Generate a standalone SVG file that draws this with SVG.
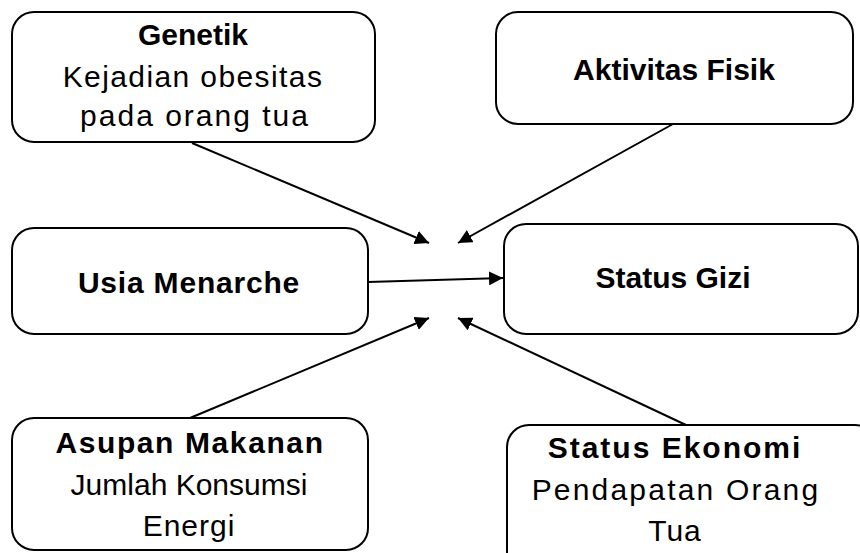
<svg xmlns="http://www.w3.org/2000/svg" width="860" height="553" viewBox="0 0 860 553">
<style>
.box{fill:#fff;stroke:#000;stroke-width:2}
text{font-family:"Liberation Sans",Arial,sans-serif;font-size:30px;fill:#000;text-anchor:middle;letter-spacing:1px}
.b{font-weight:bold;letter-spacing:0}
.c{stroke:#000;stroke-width:2;fill:none;marker-end:url(#ah)}
</style>
<defs>
<marker id="ah" viewBox="0 0 10 10" refX="10" refY="5" markerWidth="7" markerHeight="7" orient="auto" markerUnits="strokeWidth">
<path d="M0,0 L10,5 L0,10 z" fill="#000"/>
</marker>
</defs>
<g id="genetik">
<rect class="box" x="12" y="12" width="363" height="130" rx="22"/>
<text class="b" x="193" y="45">Genetik</text>
<text x="193" y="87" style="letter-spacing:1.4px">Kejadian obesitas</text>
<text x="195" y="126" style="letter-spacing:2px">pada orang tua</text>
</g>
<g id="aktivitas">
<rect class="box" x="496" y="12" width="357" height="112" rx="22"/>
<text class="b" x="674" y="80">Aktivitas Fisik</text>
</g>
<g id="usia">
<rect class="box" x="12" y="228" width="356" height="106" rx="22"/>
<text class="b" x="189" y="293" style="letter-spacing:0.8px">Usia Menarche</text>
</g>
<g id="gizi">
<rect class="box" x="504" y="224" width="354" height="110" rx="22"/>
<text class="b" x="673" y="288">Status Gizi</text>
</g>
<g id="asupan">
<rect class="box" x="12" y="418" width="356" height="132" rx="22"/>
<text class="b" x="190" y="453" style="letter-spacing:1.6px">Asupan Makanan</text>
<text x="189" y="495" style="letter-spacing:0">Jumlah Konsumsi</text>
<text x="189" y="536">Energi</text>
</g>
<g id="ekonomi">
<rect class="box" x="507" y="425" width="370" height="150" rx="22"/>
<text class="b" x="675" y="458" style="letter-spacing:2px">Status Ekonomi</text>
<text x="676" y="500" style="letter-spacing:2.2px">Pendapatan Orang</text>
<text x="675" y="541">Tua</text>
</g>
<g id="connectors">
<line class="c" x1="192" y1="143" x2="429" y2="243"/>
<line class="c" x1="673" y1="124" x2="458" y2="243"/>
<line class="c" x1="368" y1="282" x2="503" y2="278"/>
<line class="c" x1="190" y1="418" x2="429" y2="318"/>
<line class="c" x1="686" y1="425" x2="458" y2="318"/>
</g>
</svg>
